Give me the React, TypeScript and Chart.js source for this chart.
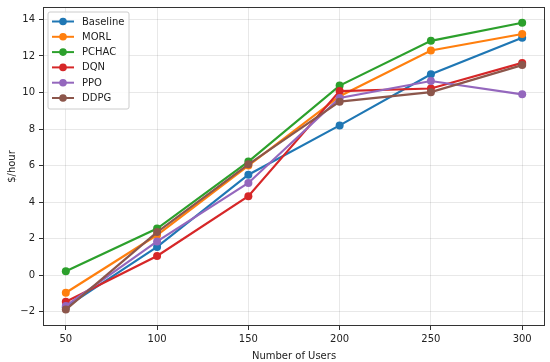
import React, { useEffect, useRef } from "react";
import { Chart, registerables } from "chart.js";

Chart.register(...registerables);

const users = [50, 100, 150, 200, 250, 300];
const baseline = [-1.75, 1.55, 5.5, 8.2, 11.0, 13.0];
const morl = [-0.96, 2.2, 6.0, 9.8, 12.3, 13.2];
const pchac = [0.22, 2.55, 6.22, 10.38, 12.83, 13.82];
const dqn = [-1.45, 1.05, 4.32, 10.08, 10.22, 11.62];
const ppo = [-1.68, 1.85, 5.05, 9.7, 10.63, 9.9];
const ddpg = [-1.88, 2.36, 6.07, 9.5, 10.02, 11.5];
const seriesNames = ["Baseline", "MORL", "PCHAC", "DQN", "PPO", "DDPG"];
const seriesColors = ["#1f77b4", "#ff7f0e", "#2ca02c", "#d62728", "#9467bd", "#8c564b"];
const xTicks = [50, 100, 150, 200, 250, 300];
const yTicks = [-2, 0, 2, 4, 6, 8, 10, 12, 14];

const FONT = "'DejaVu Sans', sans-serif";

const framePlugin = {
  id: "frame",
  afterDatasetsDraw(chart: any) {
    const { ctx, chartArea } = chart;
    ctx.save();
    ctx.strokeStyle = "#333333";
    ctx.lineWidth = 1;
    ctx.strokeRect(
      Math.round(chartArea.left) + 0.5,
      Math.round(chartArea.top) + 0.5,
      Math.round(chartArea.right - chartArea.left) - 1,
      Math.round(chartArea.bottom - chartArea.top) - 1
    );
    // legend
    const x0 = chartArea.left + 5;
    const y0 = chartArea.top + 5;
    const w = 81;
    const h = 97;
    ctx.fillStyle = "rgba(255,255,255,0.8)";
    ctx.strokeStyle = "#cccccc";
    ctx.beginPath();
    const r = 2;
    ctx.moveTo(x0 + r, y0);
    ctx.arcTo(x0 + w, y0, x0 + w, y0 + h, r);
    ctx.arcTo(x0 + w, y0 + h, x0, y0 + h, r);
    ctx.arcTo(x0, y0 + h, x0, y0, r);
    ctx.arcTo(x0, y0, x0 + w, y0, r);
    ctx.closePath();
    ctx.fill();
    ctx.stroke();
    ctx.font = `10px ${FONT}`;
    ctx.textBaseline = "middle";
    ctx.textAlign = "left";
    chart.data.datasets.forEach((ds: any, i: number) => {
      const y = y0 + 9.5 + i * 15.3;
      ctx.strokeStyle = ds.borderColor;
      ctx.lineWidth = 2;
      ctx.beginPath();
      ctx.moveTo(x0 + 4, y);
      ctx.lineTo(x0 + 26, y);
      ctx.stroke();
      ctx.fillStyle = ds.borderColor;
      ctx.beginPath();
      ctx.arc(x0 + 15, y, 3.8, 0, Math.PI * 2);
      ctx.fill();
      ctx.fillStyle = "#222222";
      ctx.fillText(ds.label, x0 + 34, y + 0.5);
    });
    ctx.restore();
  },
};

export default function App() {
  const ref = useRef<HTMLCanvasElement>(null);
  useEffect(() => {
    document.body.style.margin = "0";
    const all = [baseline, morl, pchac, dqn, ppo, ddpg];
    const chart = new Chart(ref.current!, {
      type: "line",
      data: {
        datasets: all.map((vals, i) => ({
          label: seriesNames[i],
          data: users.map((u, j) => ({ x: u, y: vals[j] })),
          borderColor: seriesColors[i],
          backgroundColor: seriesColors[i],
          pointBackgroundColor: seriesColors[i],
          pointBorderColor: seriesColors[i],
          borderWidth: 2.2,
          pointRadius: 4,
          pointBorderWidth: 0,
          tension: 0,
          fill: false,
          order: all.length - i,
        })),
      },
      options: {
        animation: false,
        responsive: false,
        maintainAspectRatio: false,
        layout: { padding: { top: 7, right: 5, left: 0, bottom: 0 } },
        plugins: { legend: { display: false }, tooltip: { enabled: false } },
        scales: {
          x: {
            type: "linear",
            min: 37.5,
            max: 312.5,
            afterBuildTicks: (s: any) => {
              s.ticks = xTicks.map((v) => ({ value: v }));
            },
            afterFit: (s: any) => {
              s.height = 36;
              s.paddingLeft = 0;
              s.paddingRight = 0;
            },
            grid: { color: "rgba(0,0,0,0.09)", tickColor: "#333333", tickLength: 4 },
            border: { display: false },
            ticks: { color: "#222222", font: { family: FONT, size: 10 }, padding: 3, maxRotation: 0 },
            title: {
              display: true,
              text: "Number of Users",
              color: "#222222",
              font: { family: FONT, size: 10 },
              padding: { top: 2, bottom: 0 },
            },
          },
          y: {
            type: "linear",
            min: -2.78,
            max: 14.68,
            afterBuildTicks: (s: any) => {
              s.ticks = yTicks.map((v) => ({ value: v }));
            },
            afterFit: (s: any) => {
              s.width = 43;
              s.paddingTop = 0;
              s.paddingBottom = 0;
            },
            grid: { color: "rgba(0,0,0,0.09)", tickColor: "#333333", tickLength: 4 },
            border: { display: false },
            ticks: {
              color: "#222222",
              font: { family: FONT, size: 10 },
              padding: 4,
              callback: (v: any) => String(v).replace("-", "\u2212"),
            },
            title: {
              display: true,
              text: "$/hour",
              color: "#222222",
              font: { family: FONT, size: 10 },
              padding: { top: 6, bottom: 0 },
            },
          },
        },
      },
      plugins: [framePlugin],
    });
    return () => chart.destroy();
  }, []);
  return (
    <div style={{ position: "absolute", left: 0, top: 0, width: 550, height: 362 }}>
      <canvas ref={ref} width={550} height={362} style={{ width: 550, height: 362 }} />
    </div>
  );
}
